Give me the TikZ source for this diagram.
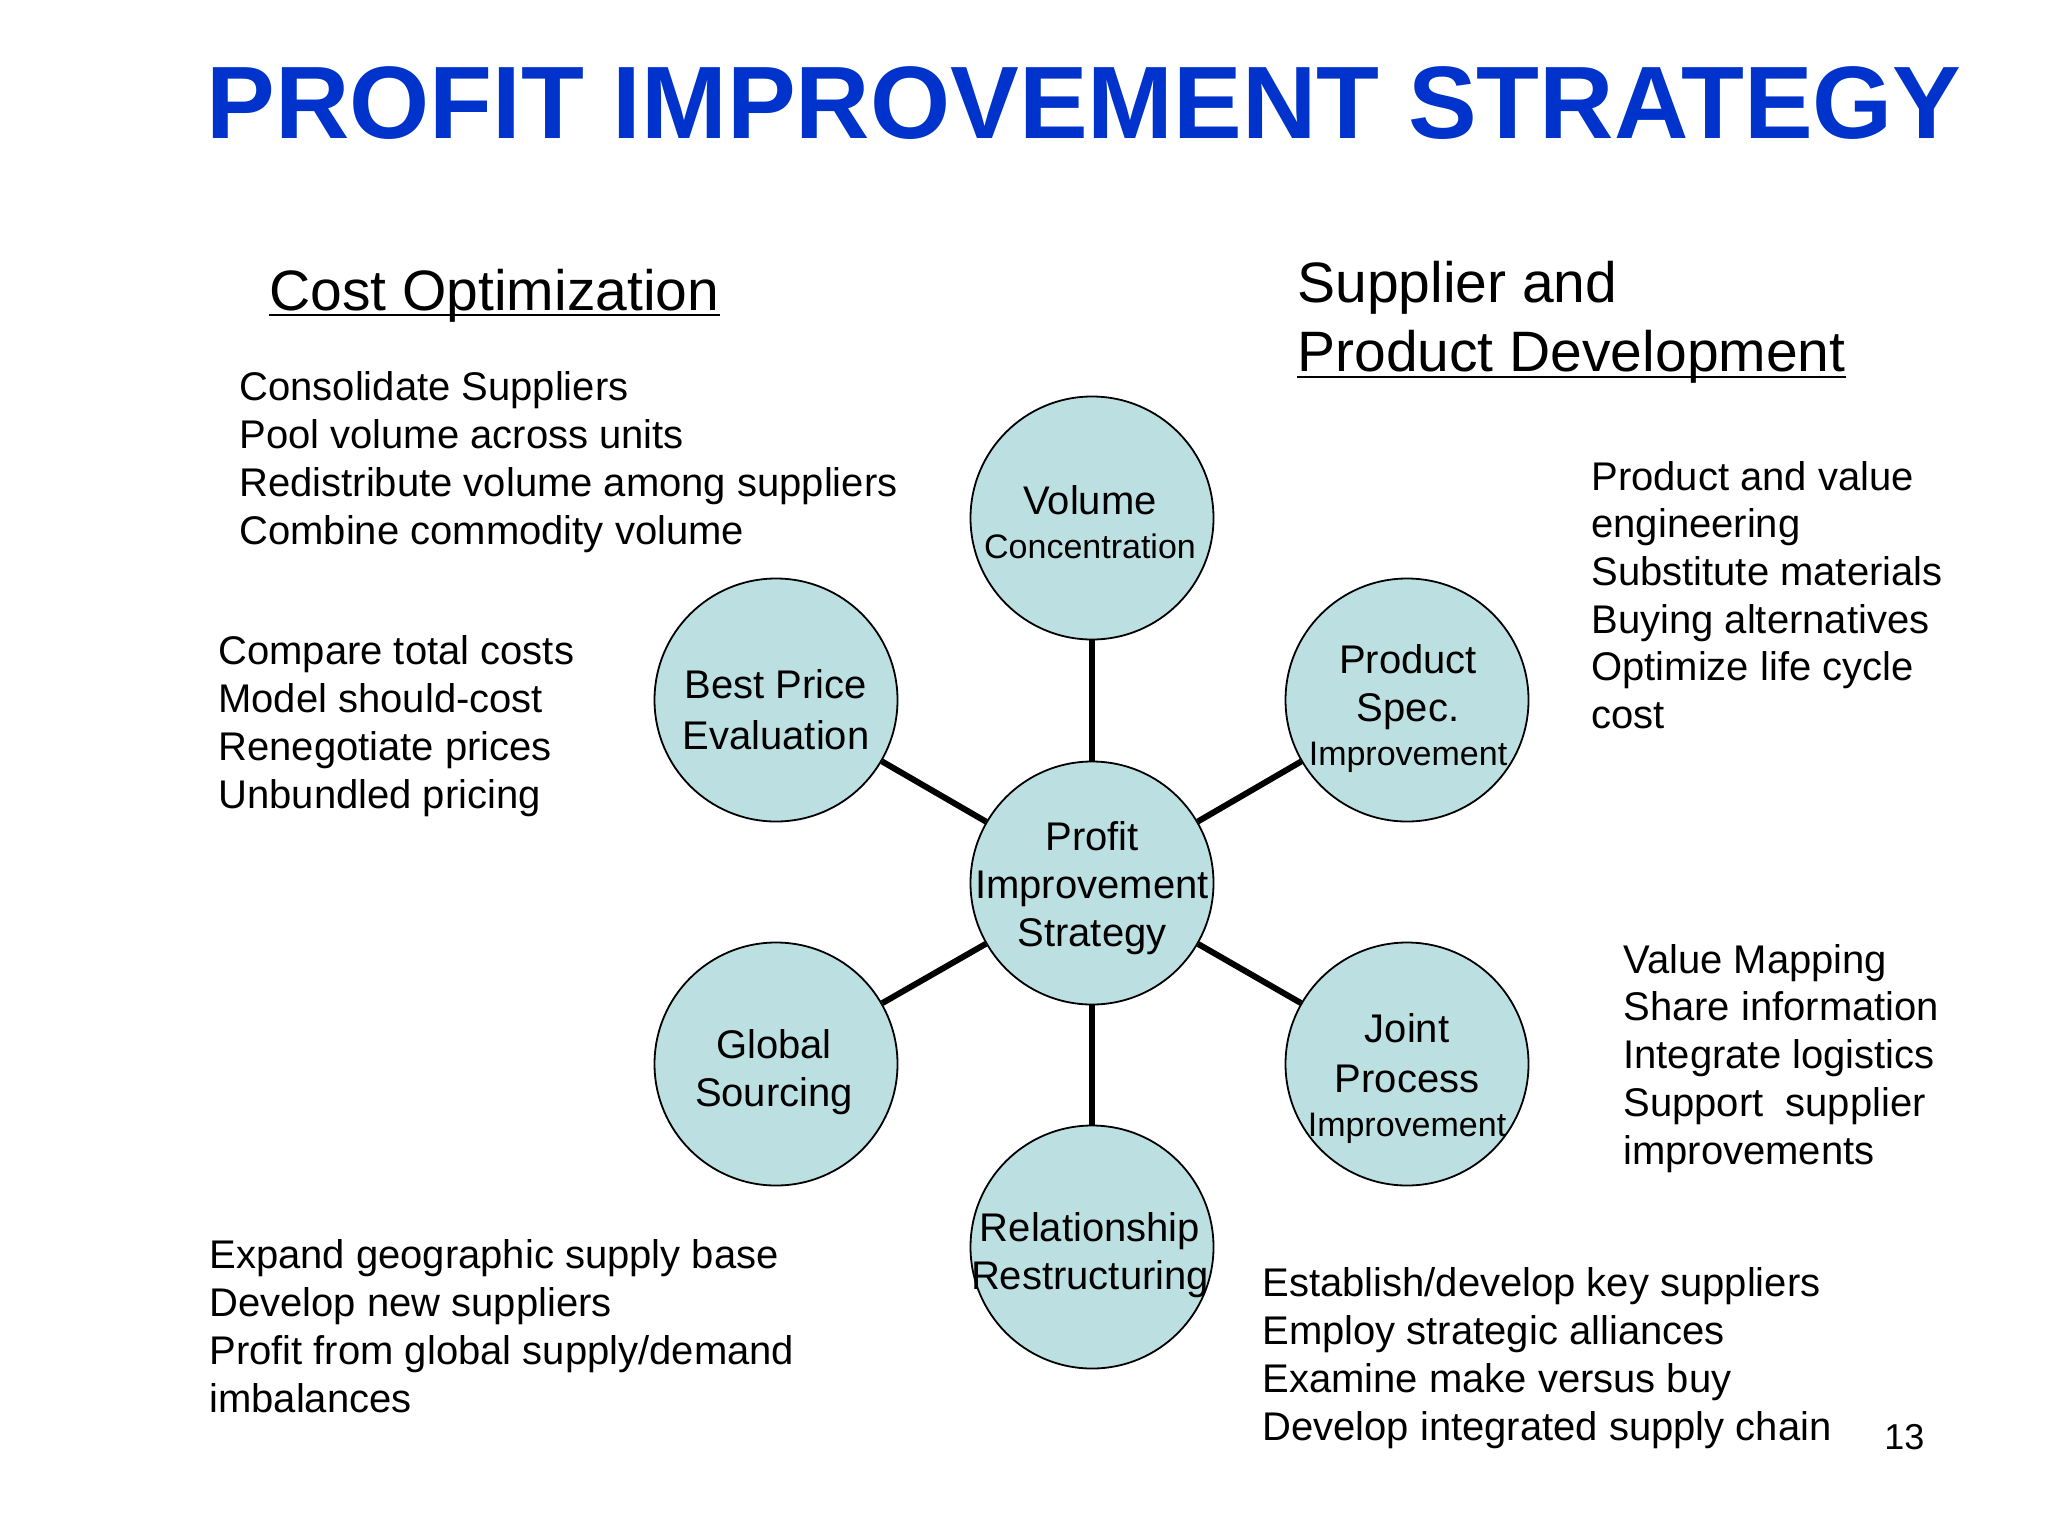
\documentclass[tikz,border=0pt]{standalone}
\usepackage{fontspec}
\setmainfont{Liberation Sans}
\definecolor{titleblue}{RGB}{0,51,204}
\definecolor{bubblefill}{RGB}{188,224,226}
\tikzset{
  bubble/.style={circle, draw=black, line width=0.9pt, fill=bubblefill, minimum size=121.5pt, inner sep=0pt},
  spoke/.style={line width=3pt},
  btext/.style={align=center, inner sep=0pt, font=\fontsize{20}{24}\selectfont},
  listtext/.style={anchor=base west, align=left, inner sep=0pt, font=\fontsize{20}{23.85}\selectfont},
  headtext/.style={anchor=base west, inner sep=0pt, font=\fontsize{28.5}{34.5}\selectfont},
  uline/.style={line width=1.25pt},
}
\newcommand{\smalltxt}{\fontsize{17}{20}\selectfont}
\begin{document}
\begin{tikzpicture}[x=0.5pt, y=-0.5pt]
\useasboundingbox[fill=white] (0,0) rectangle (2048,1536);

% title
\node[anchor=base, inner sep=0pt, text=titleblue, font=\bfseries\fontsize{51.5}{60}\selectfont] (title) at (1084,138) {PROFIT IMPROVEMENT STRATEGY};

% headings
\node[headtext] (costhead) at (269,310) {Cost Optimization};
\draw[uline] ([yshift=-2.5pt]costhead.base west) -- ([yshift=-2.5pt]costhead.base east);
\node[headtext] (supphead) at (1297,302) {Supplier and};
\node[headtext] (prodhead) at (1297,371) {Product Development};
\draw[uline] ([yshift=-3pt]prodhead.base west) -- ([yshift=-3pt]prodhead.base east);

% circles
\node[bubble] (hub) at (1092,883) {};
\node[bubble] (vol) at (1092,518) {};
\node[bubble] (best) at (776,700) {};
\node[bubble] (spec) at (1407,700) {};
\node[bubble] (glob) at (776,1064) {};
\node[bubble] (joint) at (1407,1064) {};
\node[bubble] (rel) at (1092,1247) {};

% spokes
\draw[spoke] (hub) -- (vol);
\draw[spoke] (hub) -- (best);
\draw[spoke] (hub) -- (spec);
\draw[spoke] (hub) -- (glob);
\draw[spoke] (hub) -- (joint);
\draw[spoke] (hub) -- (rel);

% circle texts
\node[btext] (hubtxt) at (1092,888) {Profit\\Improvement\\Strategy};
\node[btext] (voltxt) at (1090,522) {Volume\\[-2pt]{\smalltxt Concentration}};
\node[btext] (besttxt) at (776,710) {Best Price\\[1.5pt]Evaluation};
\node[btext] (spectxt) at (1408,709) {Product\\Spec.\\[-2pt]{\smalltxt Improvement}};
\node[btext] (globtxt) at (774,1072) {Global\\Sourcing};
\node[btext] (jointtxt) at (1407,1079) {Joint\\[1pt]Process\\[-2pt]{\smalltxt Improvement}};
\node[btext] (reltxt) at (1090,1255) {Relationship\\Restructuring};

% lists (anchored at the baseline of their last line)
\node[listtext] (costlist) at (239,544) {Consolidate Suppliers\\Pool volume across units\\Redistribute volume among suppliers\\Combine commodity volume};
\node[listtext] (pricelist) at (218,808) {Compare total costs\\Model should-cost\\Renegotiate prices\\Unbundled pricing};
\node[listtext] (globlist) at (209,1412) {Expand geographic supply base\\Develop new suppliers\\Profit from global supply/demand\\imbalances};
\node[listtext] (prodlist) at (1591,728.5) {Product and value\\engineering\\Substitute materials\\Buying alternatives\\Optimize life cycle\\cost};
\node[listtext] (jointlist) at (1623,1164) {Value Mapping\\Share information\\Integrate logistics\\Support\ \ supplier\\improvements};
\node[listtext] (rellist) at (1262,1440) {Establish/develop key suppliers\\Employ strategic alliances\\Examine make versus buy\\Develop integrated supply chain};

% page number
\node[anchor=base west, inner sep=0pt, font=\fontsize{18}{22}\selectfont] (pagenum) at (1884,1449) {13};
\end{tikzpicture}
\end{document}
